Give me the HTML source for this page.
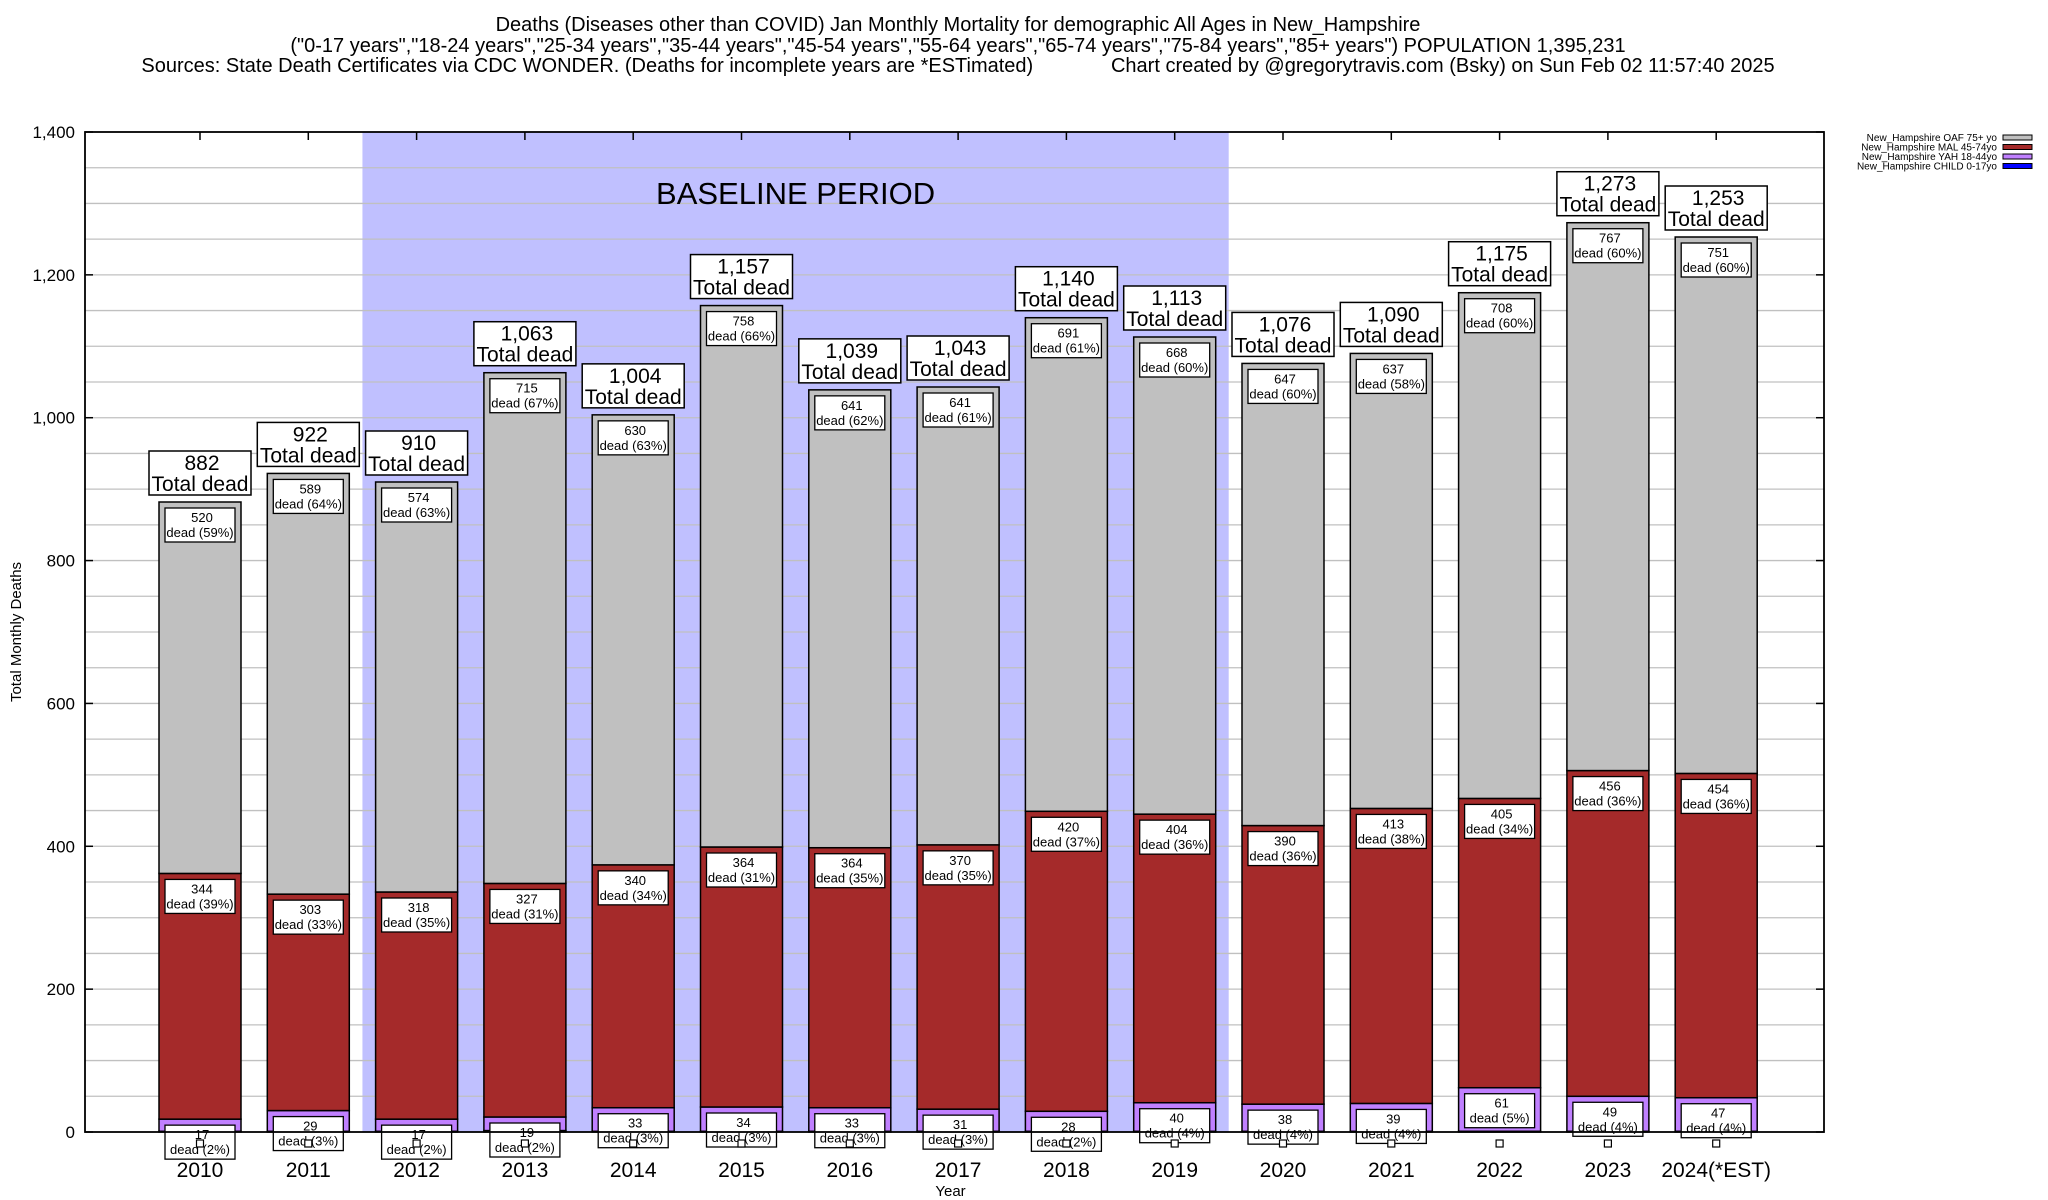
<!DOCTYPE html>
<html><head><meta charset="utf-8"><style>
body{margin:0;background:#fff;}
svg{display:block;font-family:"Liberation Sans",Arial,sans-serif;}
</style></head><body>
<svg id="chart" width="2048" height="1200" xmlns="http://www.w3.org/2000/svg">
<rect x="0" y="0" width="2048" height="1200" fill="#fff"/>
<g font-size="20" text-anchor="middle">
<text x="958" y="31">Deaths (Diseases other than COVID) Jan Monthly Mortality for demographic All Ages in New_Hampshire</text>
<text x="958" y="52">("0-17 years","18-24 years","25-34 years","35-44 years","45-54 years","55-64 years","65-74 years","75-84 years","85+ years") POPULATION 1,395,231</text>
<text x="958" y="72" xml:space="preserve">Sources: State Death Certificates via CDC WONDER. (Deaths for incomplete years are *ESTimated)              Chart created by @gregorytravis.com (Bsky) on Sun Feb 02 11:57:40 2025</text>
</g>
<g id="plot"></g>
</svg>
<script>
const years = ["2010","2011","2012","2013","2014","2015","2016","2017","2018","2019","2020","2021","2022","2023","2024(*EST)"];
const totals = [882,922,910,1063,1004,1157,1039,1043,1140,1113,1076,1090,1175,1273,1253];
const oaf = [520,589,574,715,630,758,641,641,691,668,647,637,708,767,751];
const mal = [344,303,318,327,340,364,364,370,420,404,390,413,405,456,454];
const yah = [17,29,17,19,33,34,33,31,28,40,38,39,61,49,47];
const child = [1,1,1,2,1,1,1,1,1,1,1,1,1,1,1];
const yTicks = [0,200,400,600,800,1000,1200,1400];
const yTickLabels = ["0","200","400","600","800","1,000","1,200","1,400"];
const baselineStart = 2, baselineEnd = 9;

const NS="http://www.w3.org/2000/svg";
const L=85,R=1824,T=132,B=1132,YMAX=1400;
const c0=200, step=108.3, bw=82;
const y=v=>B-(v/YMAX)*(B-T);
const xc=i=>c0+i*step;
const g=document.getElementById('plot');
function mk(tag,attrs,parent){const e=document.createElementNS(NS,tag);for(const k in attrs)e.setAttribute(k,attrs[k]);(parent||g).appendChild(e);return e;}
function fmt(n){return n.toLocaleString('en-US');}

let bl=mk('rect',{x:xc(baselineStart)-step/2,y:T,width:(xc(baselineEnd)+54)-(xc(baselineStart)-step/2),height:B-T,fill:'#c0c0ff'});


for(let v=50;v<YMAX;v+=50){
  let l=mk('line',{x1:L,x2:R,y1:y(v),y2:y(v),stroke:'#c0c0c0','stroke-width':1.3});
  
  
}
let bt=mk('text',{x:(xc(baselineStart)-step/2+xc(baselineEnd)+54)/2,y:204,'font-size':31,'text-anchor':'middle'});
bt.textContent='BASELINE PERIOD';



yTicks.forEach((v,i)=>{
  let t=mk('text',{x:L-10,y:y(v)+6,'font-size':17,'text-anchor':'end'});
  t.textContent=yTickLabels[i];
  
  
  let tk=mk('line',{x1:L,x2:L+8,y1:y(v),y2:y(v),stroke:'#000','stroke-width':1.5});
  
  
  let tk2=mk('line',{x1:R-8,x2:R,y1:y(v),y2:y(v),stroke:'#000','stroke-width':1.5});
  
  
});

function seg(i,lo,hi,fill,name){
  let r=mk('rect',{x:xc(i)-bw/2,y:y(hi),width:bw,height:y(lo)-y(hi),fill:fill,stroke:'#000','stroke-width':1.5});
  
  
}
function smallLabel(cx,top,val,pct,name){
  const w=70,h=34;
  let gg=mk('g',{});
  
  
  mk('rect',{x:cx-w/2,y:top,width:w,height:h,fill:'#fff',stroke:'#000','stroke-width':1.3},gg);
  let t1=mk('text',{x:cx+2,y:top+14,'font-size':13,'text-anchor':'middle'},gg);t1.textContent=fmt(val);
  let t2=mk('text',{x:cx,y:top+29,'font-size':13,'text-anchor':'middle'},gg);t2.textContent='dead ('+pct+'%)';
}
years.forEach((yr,i)=>{
  const cx=xc(i);
  const s1=child[i], s2=s1+yah[i], s3=s2+mal[i], s4=s3+oaf[i];
  seg(i,0,s1,'#0000ff','bar-child-'+yr);
  seg(i,s1,s2,'#c080ff','bar-yah-'+yr);
  seg(i,s2,s3,'#a52a2a','bar-mal-'+yr);
  seg(i,s3,s4,'#c0c0c0','bar-oaf-'+yr);
  smallLabel(cx,y(s4)+6,oaf[i],Math.round(oaf[i]/totals[i]*100),'oaf-label-'+yr);
  smallLabel(cx,y(s3)+6,mal[i],Math.round(mal[i]/totals[i]*100),'mal-label-'+yr);
  smallLabel(cx,y(s2)+6,yah[i],Math.round(yah[i]/totals[i]*100),'yah-label-'+yr);
  let sq=mk('rect',{x:cx-3.5,y:B+8,width:7,height:7,fill:'#fff',stroke:'#000','stroke-width':1.2});
  
  
  const tw=102,th=44,tb=y(s4)-7;
  let tg=mk('g',{});
  
  
  mk('rect',{x:cx-tw/2,y:tb-th,width:tw,height:th,fill:'#fff',stroke:'#000','stroke-width':1.5},tg);
  let a=mk('text',{x:cx+2,y:tb-th+19,'font-size':21,'text-anchor':'middle'},tg);a.textContent=fmt(totals[i]);
  let b=mk('text',{x:cx,y:tb-th+40,'font-size':21,'text-anchor':'middle'},tg);b.textContent='Total dead';
  let xl=mk('text',{x:cx,y:1177,'font-size':21,'text-anchor':'middle'});
  xl.textContent=yr;
  
  
  let tk=mk('line',{x1:cx,x2:cx,y1:T,y2:T+8,stroke:'#000','stroke-width':1.5});
  
  
});
let fr=mk('rect',{x:L,y:T,width:R-L,height:B-T,fill:'none',stroke:'#000','stroke-width':1.8});


let yt=mk('text',{x:0,y:0,'font-size':15,'text-anchor':'middle',transform:'translate(21,'+((T+B)/2)+') rotate(-90)'});
yt.textContent='Total Monthly Deaths';


let xt=mk('text',{x:(L+R)/2-4,y:1196,'font-size':15,'text-anchor':'middle'});
xt.textContent='Year';


const legNames=["New_Hampshire OAF 75+ yo","New_Hampshire MAL 45-74yo","New_Hampshire YAH 18-44yo","New_Hampshire CHILD 0-17yo"];
const legColors=["#c0c0c0","#a52a2a","#c080ff","#0000ff"];
legNames.forEach((n,i)=>{
  let lg=mk('g',{});
  
  
  const yy=137+i*9.5;
  let t=mk('text',{x:1997,y:yy+4,'font-size':10,'text-anchor':'end'},lg);t.textContent=n;
  mk('rect',{x:2003,y:yy-2,width:29,height:5,fill:legColors[i],stroke:'#000','stroke-width':1},lg);
});
</script>
</body></html>
